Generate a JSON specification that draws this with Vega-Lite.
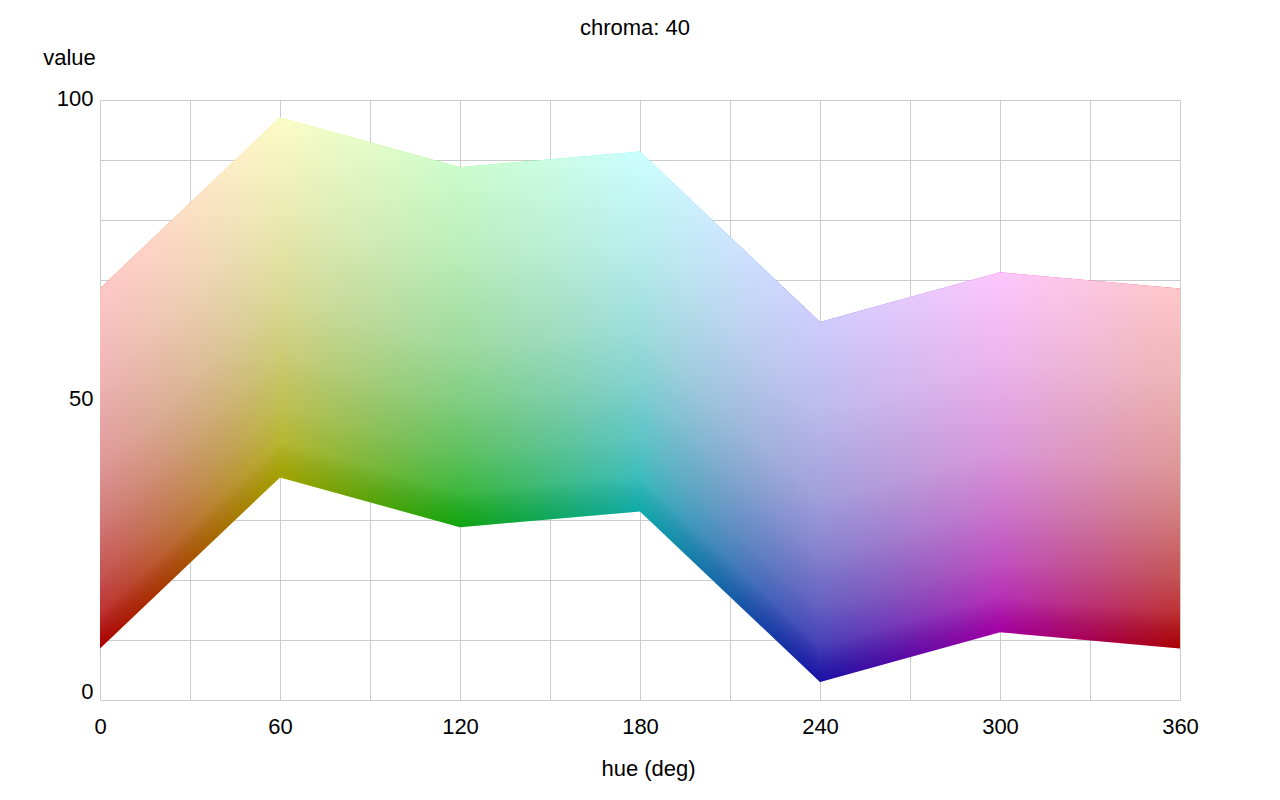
{
  "$schema": "https://vega.github.io/schema/vega-lite/v6.json",
  "width": 1080,
  "height": 600,
  "autosize": {"type": "none"},
  "padding": {"left": 100, "top": 100, "right": 100, "bottom": 100},
  "background": "white",
  "title": {"text": "chroma: 40", "anchor": "middle", "frame": "group", "fontSize": 22, "font": "Liberation Sans", "fontWeight": "normal", "color": "black", "baseline": "middle", "offset": -4, "dx": -5},
  "config": {"view": {"stroke": null}},
  "data": {"values": [
    {"hue": 0, "lower": 8.6, "upper": 68.6},
    {"hue": 60, "lower": 37.1, "upper": 97.1},
    {"hue": 120, "lower": 28.8, "upper": 88.8},
    {"hue": 180, "lower": 31.4, "upper": 91.4},
    {"hue": 240, "lower": 3.0, "upper": 63.0},
    {"hue": 300, "lower": 11.3, "upper": 71.3},
    {"hue": 360, "lower": 8.6, "upper": 68.6}
  ]},
  "encoding": {
    "x": {"field": "hue", "type": "quantitative", "scale": {"domain": [0, 360], "nice": false, "zero": false},
      "axis": {"values": [0,30,60,90,120,150,180,210,240,270,300,330,360], "labelExpr": "datum.value % 60 == 0 ? datum.label : ''",
        "grid": true, "gridColor": "#cccccc", "gridWidth": 1, "domain": false, "ticks": false,
        "labelFont": "Liberation Sans", "labelFontSize": 22, "labelColor": "black", "labelPadding": 16, "labelBaseline": "top", "labelFlush": false, "labelOverlap": false, "labelBound": false,
        "title": "hue (deg)", "titleFont": "Liberation Sans", "titleFontSize": 22, "titleFontWeight": "normal", "titleColor": "black", "titleX": 548, "titleY": 68, "titleAlign": "center", "titleBaseline": "middle"}},
    "y": {"field": "lower", "type": "quantitative", "scale": {"domain": [0, 100], "nice": false},
      "axis": {"values": [0,10,20,30,40,50,60,70,80,90,100], "labelExpr": "datum.value % 50 == 0 ? datum.label : ''",
        "grid": true, "gridColor": "#cccccc", "gridWidth": 1, "domain": false, "ticks": false,
        "labelFont": "Liberation Sans", "labelFontSize": 22, "labelColor": "black", "labelPadding": 7, "labelAlign": "right",
        "labelBaseline": {"condition": {"test": "datum.value == 0", "value": "alphabetic"}, "value": "middle"}, "labelOffset": -2,
        "labelFlush": false, "labelOverlap": false, "labelBound": false,
        "title": "value", "titleFont": "Liberation Sans", "titleFontSize": 22, "titleFontWeight": "normal", "titleColor": "black", "titleAngle": 0, "titleX": -31, "titleY": -43, "titleAlign": "center", "titleBaseline": "middle"}},
    "y2": {"field": "upper"}
  },
  "layer": [
    {"mark": {"type": "area", "color": {"gradient": "linear", "x1": 0, "y1": 0, "x2": 1, "y2": 0, "stops": [
      {"offset": 0, "color": "#ff0202"},
      {"offset": 0.16667, "color": "#f5f200"},
      {"offset": 0.33333, "color": "#18f518"},
      {"offset": 0.5, "color": "#18ffff"},
      {"offset": 0.66667, "color": "#2519f5"},
      {"offset": 0.83333, "color": "#f500f5"},
      {"offset": 1, "color": "#ff0202"}]}}},
    {"transform": [{"filter": "datum.hue >= 0 && datum.hue <= 60"}],
     "mark": {"type": "area", "color": {"gradient": "linear", "x1": 0, "y1": 1.0, "x2": -0.1978, "y2": 0.3857, "stops": [
      {"offset": 0, "color": "rgba(0,0,0,0.33)"}, {"offset": 0.1, "color": "rgba(110,110,110,0.45)"}, {"offset": 0.2, "color": "rgba(150,150,150,0.55)"}, {"offset": 0.35, "color": "rgba(185,185,185,0.65)"}, {"offset": 0.5, "color": "rgba(208,208,208,0.72)"}, {"offset": 0.75, "color": "rgba(234,234,234,0.77)"}, {"offset": 1, "color": "rgba(254,254,254,0.78)"}]}}},
    {"transform": [{"filter": "datum.hue >= 60 && datum.hue <= 120"}],
     "mark": {"type": "area", "color": {"gradient": "linear", "x1": 0, "y1": 0.87848, "x2": 0.1052, "y2": 0.01279, "stops": [
      {"offset": 0, "color": "rgba(0,0,0,0.33)"}, {"offset": 0.1, "color": "rgba(110,110,110,0.45)"}, {"offset": 0.2, "color": "rgba(150,150,150,0.55)"}, {"offset": 0.35, "color": "rgba(185,185,185,0.65)"}, {"offset": 0.5, "color": "rgba(208,208,208,0.72)"}, {"offset": 0.75, "color": "rgba(234,234,234,0.77)"}, {"offset": 1, "color": "rgba(254,254,254,0.78)"}]}}},
    {"transform": [{"filter": "datum.hue >= 120 && datum.hue <= 180"}],
     "mark": {"type": "area", "color": {"gradient": "linear", "x1": 0, "y1": 1.0, "x2": -0.03974, "y2": 0.04318, "stops": [
      {"offset": 0, "color": "rgba(0,0,0,0.33)"}, {"offset": 0.1, "color": "rgba(110,110,110,0.45)"}, {"offset": 0.2, "color": "rgba(150,150,150,0.55)"}, {"offset": 0.35, "color": "rgba(185,185,185,0.65)"}, {"offset": 0.5, "color": "rgba(208,208,208,0.72)"}, {"offset": 0.75, "color": "rgba(234,234,234,0.77)"}, {"offset": 1, "color": "rgba(254,254,254,0.78)"}]}}},
    {"transform": [{"filter": "datum.hue >= 180 && datum.hue <= 240"}],
     "mark": {"type": "area", "color": {"gradient": "linear", "x1": 0, "y1": 0.678733, "x2": 0.197654, "y2": 0.063499, "stops": [
      {"offset": 0, "color": "rgba(0,0,0,0.33)"}, {"offset": 0.1, "color": "rgba(110,110,110,0.45)"}, {"offset": 0.2, "color": "rgba(150,150,150,0.55)"}, {"offset": 0.35, "color": "rgba(185,185,185,0.65)"}, {"offset": 0.5, "color": "rgba(208,208,208,0.72)"}, {"offset": 0.75, "color": "rgba(234,234,234,0.77)"}, {"offset": 1, "color": "rgba(254,254,254,0.78)"}]}}},
    {"transform": [{"filter": "datum.hue >= 240 && datum.hue <= 300"}],
     "mark": {"type": "area", "color": {"gradient": "linear", "x1": 0, "y1": 1.0, "x2": -0.1052, "y2": 0.134308, "stops": [
      {"offset": 0, "color": "rgba(0,0,0,0.33)"}, {"offset": 0.1, "color": "rgba(110,110,110,0.45)"}, {"offset": 0.2, "color": "rgba(150,150,150,0.55)"}, {"offset": 0.35, "color": "rgba(185,185,185,0.65)"}, {"offset": 0.5, "color": "rgba(208,208,208,0.72)"}, {"offset": 0.75, "color": "rgba(234,234,234,0.77)"}, {"offset": 1, "color": "rgba(254,254,254,0.78)"}]}}},
    {"transform": [{"filter": "datum.hue >= 300 && datum.hue <= 360"}],
     "mark": {"type": "area", "color": {"gradient": "linear", "x1": 0, "y1": 0.956938, "x2": 0.041131, "y2": 0.001772, "stops": [
      {"offset": 0, "color": "rgba(0,0,0,0.33)"}, {"offset": 0.1, "color": "rgba(110,110,110,0.45)"}, {"offset": 0.2, "color": "rgba(150,150,150,0.55)"}, {"offset": 0.35, "color": "rgba(185,185,185,0.65)"}, {"offset": 0.5, "color": "rgba(208,208,208,0.72)"}, {"offset": 0.75, "color": "rgba(234,234,234,0.77)"}, {"offset": 1, "color": "rgba(254,254,254,0.78)"}]}}}
  ]
}
